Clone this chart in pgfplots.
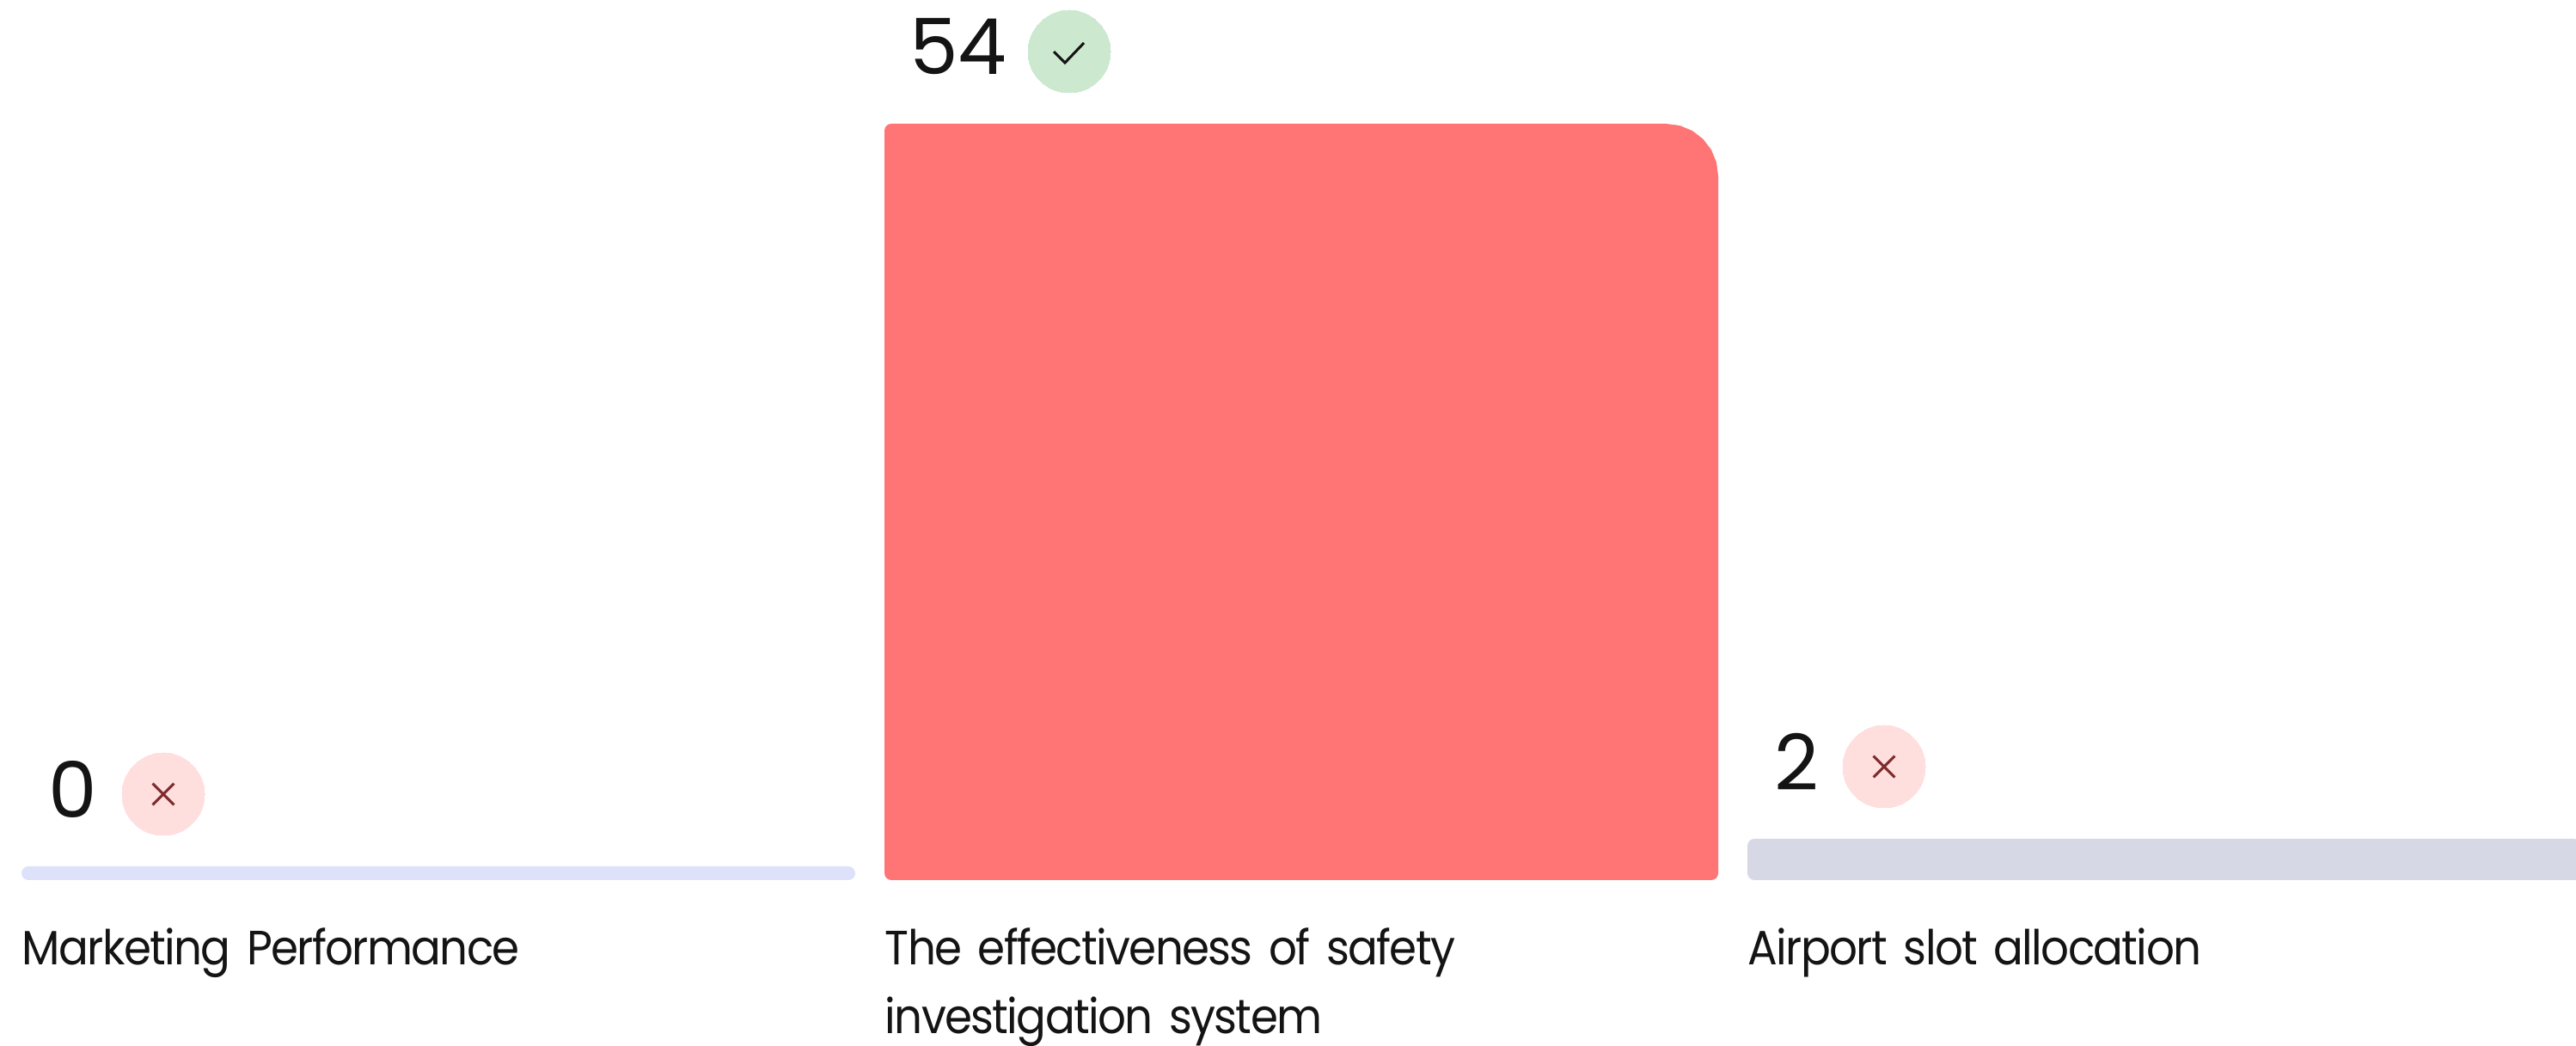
\documentclass[border=0pt]{standalone}
\usepackage{fontspec}
\usepackage{pgfplots}
\usepackage{pgfplotstable}
\pgfplotsset{compat=1.18}
\setmainfont[FakeStretch=0.92,LetterSpace=-3.0]{Poppins}
\newfontfamily\numfont{Poppins}

\definecolor{inkblack}{HTML}{141414}
\definecolor{barperiwinkle}{HTML}{DDE2FA}
\definecolor{barcoral}{HTML}{FF7575}
\definecolor{bargrey}{HTML}{D6D8E5}
\definecolor{badgered}{HTML}{FFDEDE}
\definecolor{badgegreen}{HTML}{CCE9D0}
\definecolor{crossred}{HTML}{7D2A2A}

% category captions: tight word gaps
\protected\def\captionfont{\fontsize{14}{20}\selectfont\spaceskip=2.4pt\relax}

% small glyphs drawn inside the status badges
\pgfdeclareplotmark{statuscross}{%
  \pgfpathmoveto{\pgfqpoint{-3.1pt}{-3.1pt}}\pgfpathlineto{\pgfqpoint{3.1pt}{3.1pt}}%
  \pgfpathmoveto{\pgfqpoint{-3.1pt}{3.1pt}}\pgfpathlineto{\pgfqpoint{3.1pt}{-3.1pt}}%
  \pgfusepathqstroke}
\pgfdeclareplotmark{statuscheck}{%
  \pgfpathmoveto{\pgfqpoint{-4.5pt}{0pt}}%
  \pgfpathlineto{\pgfqpoint{-1.25pt}{-3.25pt}}%
  \pgfpathlineto{\pgfqpoint{4.25pt}{2.5pt}}%
  \pgfusepathqstroke}

\pgfplotsset{
  valuebar/.style={
    fill=#1, draw=none, rounded corners=2pt, bar width=242.5pt, bar shift=0pt,
    point meta=explicit symbolic,
    nodes near coords={\pgfplotspointmeta},
  },
}
\tikzset{
  valuelabel/.style={
    anchor=center, inner sep=0pt, xshift=#1, yshift=22.5pt,
    font=\numfont\fontsize{22.5}{22.5}\selectfont, text=inkblack,
  },
}

\begin{document}
\begin{tikzpicture}
\useasboundingbox (0,0) rectangle (749.25pt,304.25pt);
\begin{axis}[
  at={(0,0)}, anchor=south west,
  scale only axis, width=749.25pt, height=304.25pt,
  xmin=-0.50797, xmax=2.47709,
  ymin=-13.0625, ymax=63,
  % every bar carries a one-unit stub below zero
  y coord trafo/.code={\pgfmathparse{#1+1}},
  ybar,
  axis x line=middle, axis y line=none,
  x axis line style={draw=none},
  hide obscured x ticks=false,
  xtick={0,1,2},
  xticklabels={Marketing Performance,{The effectiveness of safety\\investigation system},Airport slot allocation},
  major tick length=0pt,
  xticklabel style={
    anchor=north west, xshift=-121.25pt, yshift=-13.8pt, inner sep=0pt,
    align=left, text width=240pt, font=\captionfont, text=inkblack,
  },
  clip=true,
]
\addplot[valuebar=barperiwinkle, nodes near coords style={valuelabel=-106.4pt}]
  table[x=x, y=v, meta=v] {
  x v
  0 0
};
\addplot[valuebar=barcoral, nodes near coords style={valuelabel=-99.75pt}]
  table[x=x, y=v, meta=v] {
  x v
  1 54
};
\addplot[valuebar=bargrey, nodes near coords style={valuelabel=-106.9pt}]
  table[x=x, y=v, meta=v] {
  x v
  2 2
};

% large radius on the upper right corner of the tallest bar
\addplot[ybar=false, sharp plot, fill=white, draw=none, mark=none] coordinates {
  (1.48307,50.25) (1.48103,51.2205) (1.47506,52.125) (1.46557,52.9017)
  (1.45319,53.4976) (1.43878,53.8722) (1.42331,54)
  (1.42331,54.3) (1.49,54.3) (1.49,50.25)
} -- cycle;

% status badges
\addplot[sharp plot, only marks, mark=*, mark size=12pt, mark options={fill=badgered, draw=badgered, line width=0pt}]
  coordinates {(-0.31873,5.25) (1.67530,7.25)};
\addplot[sharp plot, only marks, mark=*, mark size=12pt, mark options={fill=badgegreen, draw=badgegreen, line width=0pt}]
  coordinates {(0.73108,59.25)};
\addplot[sharp plot, only marks, mark=statuscross, mark options={draw=crossred, line width=0.75pt}]
  coordinates {(-0.31873,5.25) (1.67530,7.25)};
\addplot[sharp plot, only marks, mark=statuscheck, mark options={draw=inkblack, line width=0.75pt}]
  coordinates {(0.73108,59.25)};
\end{axis}
\end{tikzpicture}
\end{document}
